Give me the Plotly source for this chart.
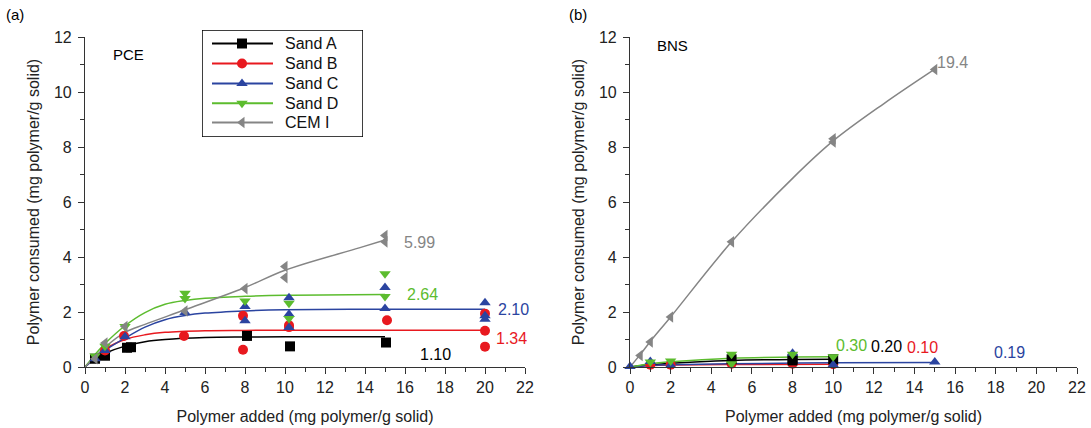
import plotly.graph_objects as go

# ---------------- data ----------------
names = ["Sand A", "Sand B", "Sand C", "Sand D", "CEM I"]
colors = ["#000000", "#e8191f", "#2b44a0", "#5cbc2e", "#858585"]
symbols = ["square", "circle", "triangle-up", "triangle-down", "triangle-left"]

# PCE measured points
pce_ax = [0.5, 1.0, 2.1, 2.3, 8.1, 10.25, 15.05]
pce_ay = [0.30, 0.41, 0.70, 0.72, 1.13, 0.75, 0.89]
pce_bx = [1.0, 1.95, 4.95, 7.9, 7.9, 10.2, 10.2, 15.1, 20.0, 20.0, 20.0]
pce_by = [0.60, 1.13, 1.13, 1.86, 0.63, 1.52, 1.45, 1.70, 1.94, 1.32, 0.74]
pce_cx = [0.5, 1.0, 2.0, 5.0, 8.0, 8.0, 10.2, 10.2, 10.2, 15.0, 15.0, 20.0, 20.0, 20.0]
pce_cy = [0.30, 0.60, 1.10, 1.98, 2.20, 1.68, 2.52, 1.92, 1.44, 2.89, 2.13, 2.34, 1.86, 1.74]
pce_dx = [0.5, 1.0, 2.0, 5.0, 5.0, 8.0, 10.2, 10.2, 15.0, 15.0]
pce_dy = [0.40, 0.75, 1.47, 2.68, 2.49, 2.40, 2.32, 1.76, 3.39, 2.56]
pce_ex = [0.5, 1.0, 2.0, 5.0, 8.0, 10.0, 10.0, 15.0, 15.0]
pce_ey = [0.30, 0.87, 1.47, 2.04, 2.85, 3.65, 3.25, 4.78, 4.55]

# PCE fitted curves (knots)
pce_fit_ax = [0, 0.5, 1, 2, 3, 4, 6, 8, 10, 15]
pce_fit_ay = [0, 0.30, 0.50, 0.76, 0.92, 1.00, 1.07, 1.09, 1.10, 1.10]
pce_fit_bx = [0, 1, 2, 3, 4, 6, 8, 10, 20]
pce_fit_by = [0, 0.65, 1.00, 1.17, 1.26, 1.32, 1.33, 1.34, 1.34]
pce_fit_cx = [0, 1, 2, 3, 4, 5, 6, 8, 10, 15, 20]
pce_fit_cy = [0, 0.60, 1.05, 1.45, 1.72, 1.87, 1.96, 2.04, 2.08, 2.10, 2.10]
pce_fit_dx = [0, 0.5, 1, 2, 3, 4, 5, 6, 8, 10, 15]
pce_fit_dy = [0, 0.45, 0.85, 1.50, 1.98, 2.28, 2.42, 2.50, 2.57, 2.61, 2.64]
pce_fit_ex = [0, 1, 2, 3, 5, 8, 10, 13.75, 15]
pce_fit_ey = [0, 0.72, 1.26, 1.55, 2.08, 2.89, 3.52, 4.34, 4.62]

# BNS measured points
bns_ax = [5.0, 8.0, 8.0, 10.0]
bns_ay = [0.28, 0.24, 0.30, 0.28]
bns_bx = [1.0, 2.0, 5.0, 8.0, 10.0]
bns_by = [0.08, 0.08, 0.12, 0.12, 0.10]
bns_cx = [0.0, 1.0, 2.0, 8.0, 10.0, 15.0]
bns_cy = [0.02, 0.20, 0.06, 0.50, 0.08, 0.18]
bns_dx = [1.0, 2.0, 5.0, 5.0, 8.0, 10.0]
bns_dy = [0.18, 0.22, 0.46, 0.12, 0.46, 0.37]
bns_ex = [0.5, 1.0, 2.0, 5.0, 10.0, 10.0, 15.0]
bns_ey = [0.42, 0.91, 1.82, 4.55, 8.30, 8.18, 10.82]

# BNS fitted curves
bns_fit_ax = [0, 1, 2, 5, 8, 10]
bns_fit_ay = [0, 0.08, 0.14, 0.24, 0.27, 0.28]
bns_fit_bx = [0, 1, 2, 5, 10]
bns_fit_by = [0, 0.05, 0.07, 0.09, 0.10]
bns_fit_cx = [0, 1, 2, 5, 10, 15]
bns_fit_cy = [0, 0.05, 0.08, 0.12, 0.15, 0.16]
bns_fit_dx = [0, 1, 2, 5, 8, 10]
bns_fit_dy = [0, 0.12, 0.19, 0.32, 0.36, 0.37]
bns_fit_ex = [0, 0.5, 1, 2, 5, 8, 10, 12.5, 15]
bns_fit_ey = [0, 0.45, 0.93, 1.82, 4.55, 6.86, 8.22, 9.58, 10.83]

# value labels: text, x, y
pce_labels = ["1.10", "1.34", "2.10", "2.64", "5.99"]
pce_label_x = [17.5, 21.3, 21.4, 16.85, 16.7]
pce_label_y = [0.47, 1.04, 2.10, 2.64, 4.54]
bns_labels = ["0.20", "0.10", "0.19", "0.30", "19.4"]
bns_label_x = [12.6, 14.4, 18.7, 10.9, 15.86]
bns_label_y = [0.76, 0.72, 0.53, 0.79, 11.09]

x_title = "Polymer added (mg polymer/g solid)"
y_title = "Polymer consumed (mg polymer/g solid)"

W, H = 1091, 428

# ---------------- figure ----------------
fig = go.Figure()

pce_pts = [(pce_ax, pce_ay), (pce_bx, pce_by), (pce_cx, pce_cy), (pce_dx, pce_dy), (pce_ex, pce_ey)]
pce_fits = [(pce_fit_ax, pce_fit_ay), (pce_fit_bx, pce_fit_by), (pce_fit_cx, pce_fit_cy),
            (pce_fit_dx, pce_fit_dy), (pce_fit_ex, pce_fit_ey)]
bns_pts = [(bns_ax, bns_ay), (bns_bx, bns_by), (bns_cx, bns_cy), (bns_dx, bns_dy), (bns_ex, bns_ey)]
bns_fits = [(bns_fit_ax, bns_fit_ay), (bns_fit_bx, bns_fit_by), (bns_fit_cx, bns_fit_cy),
            (bns_fit_dx, bns_fit_dy), (bns_fit_ex, bns_fit_ey)]

bns_order = [1, 0, 2, 3, 4]  # red drawn underneath in panel (b)
for (pts, fits, xa, ya, order) in [(pce_pts, pce_fits, "x", "y", [0, 1, 2, 3, 4]),
                                   (bns_pts, bns_fits, "x2", "y2", bns_order)]:
    for i in order:
        fx, fy = fits[i]
        fig.add_trace(go.Scatter(x=fx, y=fy, mode="lines", xaxis=xa, yaxis=ya,
                                 line=dict(color=colors[i], width=1.5, shape="spline", smoothing=1.0),
                                 showlegend=False, hoverinfo="skip", cliponaxis=False))
    for i in order:
        px, py = pts[i]
        fig.add_trace(go.Scatter(x=px, y=py, mode="markers", xaxis=xa, yaxis=ya,
                                 marker=dict(symbol=symbols[i], color=colors[i], size=10,
                                             line=dict(width=0)),
                                 showlegend=False, cliponaxis=False))

# hand-made legend on a hidden pixel-scaled axis (x: 202..363 px, y: 30..137 px from top)
leg_x0, leg_x1, leg_y0, leg_y1 = 202, 363, 30, 137
leg_rows = [43.5, 63.5, 83.5, 103.3, 122.5]
for i in range(5):
    fig.add_trace(go.Scatter(x=[212, 273], y=[leg_rows[i], leg_rows[i]], mode="lines",
                             xaxis="x3", yaxis="y3", line=dict(color=colors[i], width=2),
                             showlegend=False, hoverinfo="skip", cliponaxis=False))
    fig.add_trace(go.Scatter(x=[242], y=[leg_rows[i]], mode="markers", xaxis="x3", yaxis="y3",
                             marker=dict(symbol=symbols[i], color=colors[i], size=10),
                             showlegend=False, hoverinfo="skip", cliponaxis=False))

ann = []
for i in range(5):
    ann.append(dict(x=283, y=leg_rows[i], xref="x3", yref="y3", text=names[i], showarrow=False,
                    xanchor="left", yanchor="middle", font=dict(size=16, color="#111")))
for lab, lx, ly, c in zip(pce_labels, pce_label_x, pce_label_y, colors):
    ann.append(dict(x=lx, y=ly, xref="x", yref="y", text=lab, showarrow=False,
                    font=dict(size=16, color=c), bgcolor="white"))
for lab, lx, ly, c in zip(bns_labels, bns_label_x, bns_label_y, colors):
    ann.append(dict(x=lx, y=ly, xref="x2", yref="y2", text=lab, showarrow=False,
                    font=dict(size=16, color=c)))

ann += [
    dict(x=15 / W, y=1 - 15 / H, xref="paper", yref="paper", text="(a)", showarrow=False,
         font=dict(size=15, color="black"), xanchor="center", yanchor="middle"),
    dict(x=578 / W, y=1 - 15 / H, xref="paper", yref="paper", text="(b)", showarrow=False,
         font=dict(size=15, color="black"), xanchor="center", yanchor="middle"),
    dict(x=128 / W, y=1 - 55 / H, xref="paper", yref="paper", text="PCE", showarrow=False,
         font=dict(size=15, color="black"), xanchor="center", yanchor="middle"),
    dict(x=672 / W, y=1 - 45 / H, xref="paper", yref="paper", text="BNS", showarrow=False,
         font=dict(size=15, color="black"), xanchor="center", yanchor="middle"),
]

shapes = [dict(type="rect", xref="x3", yref="y3", x0=leg_x0, x1=leg_x1, y0=leg_y0, y1=leg_y1,
               line=dict(color="black", width=1.5), fillcolor="rgba(0,0,0,0)", layer="above")]

axis_common = dict(showline=True, linecolor="#333", linewidth=1.2, showgrid=False, zeroline=False,
                   ticks="outside", ticklen=6, tickwidth=1, tickcolor="#333", automargin=False,
                   tickfont=dict(size=16, color="#222"),
                   minor=dict(ticks="outside", ticklen=3.5, tickwidth=1, tickcolor="#333", dtick=1))

xd1 = [85 / W, 525 / W]
xd2 = [630 / W, 1077 / W]
yd = [1 - 367 / H, 1 - 37 / H]

fig.update_layout(
    width=W, height=H,
    margin=dict(l=0, r=0, t=0, b=0),
    paper_bgcolor="white", plot_bgcolor="white",
    font=dict(family="Liberation Sans, Arial, sans-serif", color="#222"),
    showlegend=False,
    xaxis=dict(domain=xd1, range=[0, 22], dtick=2, anchor="y",
               title=dict(text=x_title, font=dict(size=16), standoff=15), **axis_common),
    yaxis=dict(domain=yd, range=[0, 12], dtick=2, anchor="x", ticklabelstandoff=3,
               title=dict(text=y_title, font=dict(size=16), standoff=10), **axis_common),
    xaxis2=dict(domain=xd2, range=[0, 22], dtick=2, anchor="y2",
                title=dict(text=x_title, font=dict(size=16), standoff=15), **axis_common),
    yaxis2=dict(domain=yd, range=[0, 12], dtick=2, anchor="x2", ticklabelstandoff=3,
                title=dict(text=y_title, font=dict(size=16), standoff=10), **axis_common),
    xaxis3=dict(domain=[leg_x0 / W, leg_x1 / W], range=[leg_x0, leg_x1], visible=False,
                anchor="y3", fixedrange=True),
    yaxis3=dict(domain=[1 - leg_y1 / H, 1 - leg_y0 / H], range=[leg_y1, leg_y0], visible=False,
                anchor="x3", fixedrange=True),
    annotations=ann,
    shapes=shapes,
)

fig.write_html("out.html", config={"displayModeBar": False},
               post_script="document.body.style.margin='0px';document.body.style.overflow='hidden';")
